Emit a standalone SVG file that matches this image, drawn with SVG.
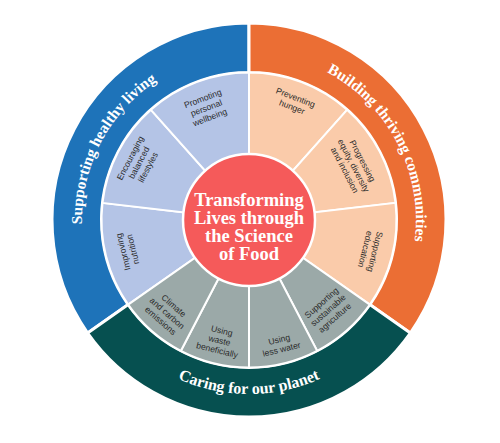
<svg xmlns="http://www.w3.org/2000/svg" width="500" height="443" viewBox="0 0 500 443">
<style>
.outer{stroke:#fff;stroke-width:3;stroke-linejoin:miter}
.inner{stroke:#fff;stroke-width:2}
.ring{font-family:"Liberation Serif",serif;font-weight:bold;font-size:15.5px;fill:#fff}
.lbl{font-family:"Liberation Sans",Arial,sans-serif;font-size:8.6px;fill:#2b2b2b;text-anchor:middle}
.title{font-family:"Liberation Serif",serif;font-weight:bold;font-size:18.5px;fill:#fff;text-anchor:middle}
</style>
<defs>
<path id="pBlue" d="M112.20,315.79 A167,167 0 0 1 249,53"/>
<path id="pOrange" d="M249,53 A167,167 0 0 1 385.80,315.79"/>
<path id="pGreen" d="M106.47,319.80 A174,174 0 0 0 391.53,319.80"/>
</defs>
<rect width="500" height="443" fill="#fff"/>
<g id="outer-ring">
<g id="supporting-healthy-living">
<path class="outer" fill="#1e73b9" d="M87.63,333 A197,197 0 0 1 249,23 L249,72.5 A147.5,147.5 0 0 0 128.18,304.60 Z"/>
<text class="ring"><textPath href="#pBlue" startOffset="50%" text-anchor="middle">Supporting healthy living</textPath></text>
</g>
<g id="building-thriving-communities">
<path class="outer" fill="#eb6e34" d="M249,23 A197,197 0 0 1 410.37,333 L369.82,304.60 A147.5,147.5 0 0 0 249,72.5 Z"/>
<text class="ring"><textPath href="#pOrange" startOffset="50%" text-anchor="middle">Building thriving communities</textPath></text>
</g>
<g id="caring-for-our-planet">
<path class="outer" fill="#065050" d="M410.37,333 A197,197 0 0 1 87.63,333 L128.18,304.60 A147.5,147.5 0 0 0 369.82,304.60 Z"/>
<text class="ring" style="font-size:16px"><textPath href="#pGreen" startOffset="50%" text-anchor="middle">Caring for our planet</textPath></text>
</g>
</g>
<g id="inner-ring">
<g id="improving-nutrition">
<path class="inner" fill="#b4c4e6" d="M249,220 L128.18,304.60 A147.5,147.5 0 0 1 102.50,202.88 Z"/>
<text class="lbl" transform="translate(127.8,250.6) rotate(-104.17)"><tspan x="0" y="-2">Improving</tspan><tspan x="0" y="8">nutrition</tspan></text>
</g>
<g id="encouraging-balanced-lifestyles">
<path class="inner" fill="#b4c4e6" d="M249,220 L102.50,202.88 A147.5,147.5 0 0 1 150.94,109.81 Z"/>
<text class="lbl" transform="translate(139.0,162.7) rotate(-62.5)"><tspan x="0" y="-7">Encouraging</tspan><tspan x="0" y="3">balanced</tspan><tspan x="0" y="13">lifestyles</tspan></text>
</g>
<g id="promoting-personal-wellbeing">
<path class="inner" fill="#b4c4e6" d="M249,220 L150.94,109.81 A147.5,147.5 0 0 1 249,72.5 Z"/>
<text class="lbl" transform="translate(206.3,107.9) rotate(-20.83)"><tspan x="0" y="-7">Promoting</tspan><tspan x="0" y="3">personal</tspan><tspan x="0" y="13">wellbeing</tspan></text>
</g>
<g id="preventing-hunger">
<path class="inner" fill="#facbaa" d="M249,220 L249,72.5 A147.5,147.5 0 0 1 347.06,109.81 Z"/>
<text class="lbl" transform="translate(293.8,102.2) rotate(20.83)"><tspan x="0" y="-2">Preventing</tspan><tspan x="0" y="8">hunger</tspan></text>
</g>
<g id="progressing-equity">
<path class="inner" fill="#facbaa" d="M249,220 L347.06,109.81 A147.5,147.5 0 0 1 395.50,202.88 Z"/>
<text class="lbl" transform="translate(353.7,165.5) rotate(62.5)"><tspan x="0" y="-7">Progressing</tspan><tspan x="0" y="3">equity, diversity</tspan><tspan x="0" y="13">and inclusion</tspan></text>
</g>
<g id="supporting-education">
<path class="inner" fill="#facbaa" d="M249,220 L395.50,202.88 A147.5,147.5 0 0 1 369.82,304.60 Z"/>
<text class="lbl" transform="translate(370.2,250.6) rotate(104.17)"><tspan x="0" y="-2">Supporting</tspan><tspan x="0" y="8">education</tspan></text>
</g>
<g id="supporting-sustainable-agriculture">
<path class="inner" fill="#9ba9a8" d="M249,220 L369.82,304.60 A147.5,147.5 0 0 1 317.11,350.83 Z"/>
<text class="lbl" transform="translate(328.1,310.2) rotate(-41.25)"><tspan x="0" y="-7">Supporting</tspan><tspan x="0" y="3">sustainable</tspan><tspan x="0" y="13">agriculture</tspan></text>
</g>
<g id="using-less-water">
<path class="inner" fill="#9ba9a8" d="M249,220 L317.11,350.83 A147.5,147.5 0 0 1 249,367.5 Z"/>
<text class="lbl" transform="translate(280.4,344.3) rotate(-13.75)"><tspan x="0" y="-2">Using</tspan><tspan x="0" y="8">less water</tspan></text>
</g>
<g id="using-waste-beneficially">
<path class="inner" fill="#9ba9a8" d="M249,220 L249,367.5 A147.5,147.5 0 0 1 180.89,350.83 Z"/>
<text class="lbl" transform="translate(219.5,340.4) rotate(13.75)"><tspan x="0" y="-7">Using</tspan><tspan x="0" y="3">waste</tspan><tspan x="0" y="13">beneficially</tspan></text>
</g>
<g id="climate-and-carbon-emissions">
<path class="inner" fill="#9ba9a8" d="M249,220 L180.89,350.83 A147.5,147.5 0 0 1 128.18,304.60 Z"/>
<text class="lbl" transform="translate(167.2,313.2) rotate(41.25)"><tspan x="0" y="-7">Climate</tspan><tspan x="0" y="3">and carbon</tspan><tspan x="0" y="13">emissions</tspan></text>
</g>
</g>
<g id="center">
<circle cx="249" cy="220" r="66" fill="#f55a5a" stroke="#fff" stroke-width="2.5"/>
<text class="title"><tspan x="249" y="205.5">Transforming</tspan><tspan x="249" y="223.7">Lives through</tspan><tspan x="249" y="241.9">the Science</tspan><tspan x="249" y="260.1">of Food</tspan></text>
</g>
<g id="connectors"/>
</svg>
